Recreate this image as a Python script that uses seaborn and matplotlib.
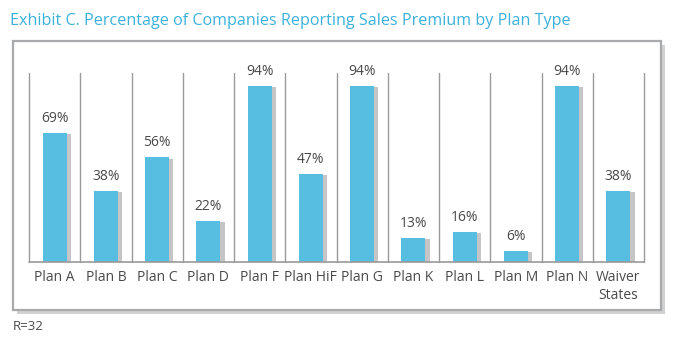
import matplotlib
matplotlib.use("Agg")
import matplotlib.pyplot as plt
import matplotlib.patheffects as pe
from matplotlib.patches import Rectangle
import seaborn as sns

plans = ["Plan A", "Plan B", "Plan C", "Plan D", "Plan F", "Plan HiF",
         "Plan G", "Plan K", "Plan L", "Plan M", "Plan N", "Waiver\nStates"]
pct = [69, 38, 56, 22, 94, 47, 94, 13, 16, 6, 94, 38]

title = "Exhibit C. Percentage of Companies Reporting Sales Premium by Plan Type"
note = "R=32"

BAR = "#58bee1"
TXT = "#4a4a4a"
LINE = "#9a9a9a"

sns.set_theme(style="white")
plt.rcParams["font.family"] = ["Open Sans", "DejaVu Sans"]

W, H = 674, 350
fig = plt.figure(figsize=(W / 100, H / 100), dpi=100)

# outer frame with a soft shadow
frame = Rectangle((13 / W, 1 - 310 / H), (661 - 13) / W, (310 - 41) / H,
                  transform=fig.transFigure, facecolor="white",
                  edgecolor="#a8aaac", lw=1.6, zorder=-5)
frame.set_path_effects([pe.SimplePatchShadow(offset=(3, -3), shadow_rgbFace="#999999", alpha=0.45),
                        pe.Normal()])
fig.patches.append(frame)

ax = fig.add_axes([29 / W, 1 - 262 / H, (644 - 29) / W, (262 - 73) / H])
ax.patch.set_alpha(0)
ax.set_zorder(2)

sns.barplot(x=plans, y=pct, color=BAR, saturation=1, width=0.47, ax=ax, zorder=3)
for bar in ax.patches:
    bar.set_path_effects([pe.SimplePatchShadow(offset=(3, -1), shadow_rgbFace="#808080", alpha=0.45),
                          pe.Normal()])
    bar.set_edgecolor("none")

for i, v in enumerate(pct):
    ax.annotate(f"{v}%", (i, v), xytext=(0, 5), textcoords="offset points",
                ha="center", va="bottom", fontsize=10, color=TXT)

n = len(plans)
ax.set_xlim(-0.5, n - 0.5)
ax.set_ylim(0, 101)
for k in range(n + 1):
    ax.axvline(k - 0.5, color=LINE, lw=1, zorder=1, clip_on=False)
ax.axhline(0, color=LINE, lw=1.2, zorder=4, clip_on=False)

for s in ax.spines.values():
    s.set_visible(False)
ax.set_yticks([])
ax.set_xticks(range(n))
ax.set_xticklabels(plans, fontsize=10, color=TXT, linespacing=1.2)
ax.set_xticks([k - 0.5 for k in range(n + 1)], minor=True)
ax.tick_params(axis="x", which="major", length=0, pad=6)
ax.tick_params(axis="x", which="minor", length=4, width=1, color=LINE, direction="out")
ax.set_xlabel("")

fig.text(10 / W, 1 - 21 / H, title, fontsize=11.6, color="#3cb1dc", va="center", ha="left")
fig.text(13 / W, 1 - 327 / H, note, fontsize=9.5, color=TXT, va="center", ha="left")

fig.savefig("out.png", dpi=100)
